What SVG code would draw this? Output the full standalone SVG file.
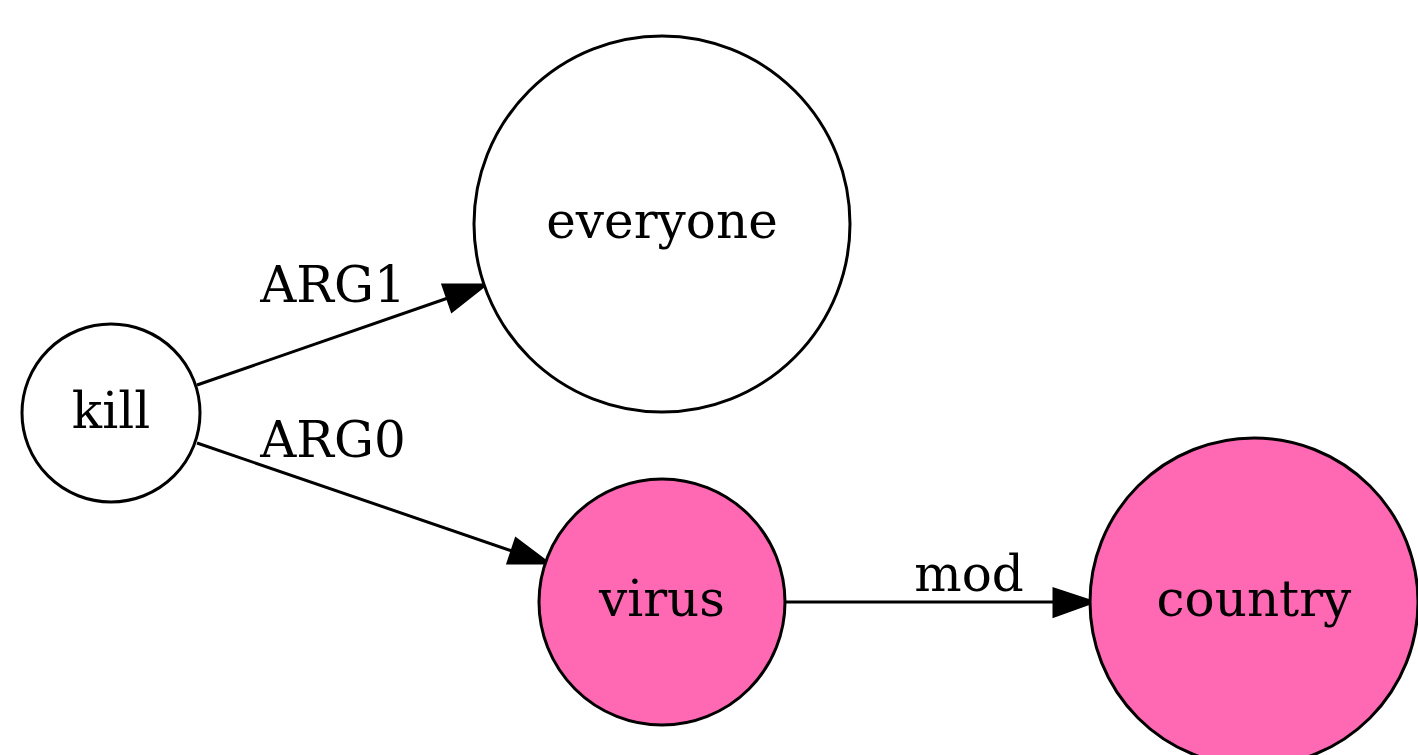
<svg xmlns="http://www.w3.org/2000/svg" width="1418" height="755" viewBox="0 0 1418 755">
<defs>
<style>
.node{stroke:#000;stroke-width:3}
.white{fill:#fff}
.pink{fill:#ff69b4}
text{font-family:"DejaVu Serif",serif;font-size:50px;fill:#000;text-anchor:middle}
.edge{stroke:#000;stroke-width:3;fill:none}
.head{fill:#000;stroke:#000;stroke-width:3}
</style>
</defs>
<rect width="1418" height="755" fill="#fff"/>
<g id="connectors">
<g id="e-kill-everyone">
<path class="edge" d="M197,385 L448,298"/>
<polygon class="head" points="485,285 443,285 452,311"/>
<text x="333" y="302">ARG1</text>
</g>
<g id="e-kill-virus">
<path class="edge" d="M197,443 L512,551"/>
<polygon class="head" points="548,563 508,563 516,539"/>
<text x="333" y="457">ARG0</text>
</g>
<g id="e-virus-country">
<path class="edge" d="M785,602 L1055,602"/>
<polygon class="head" points="1093,602 1054,589 1054,616"/>
<text x="969" y="591">mod</text>
</g>
</g>
<g id="kill">
<circle class="node white" cx="111" cy="413" r="89"/>
<text x="111" y="428">kill</text>
</g>
<g id="everyone">
<circle class="node white" cx="662" cy="224" r="188"/>
<text x="662" y="238">everyone</text>
</g>
<g id="virus">
<circle class="node pink" cx="662" cy="602" r="123"/>
<text x="662" y="616">virus</text>
</g>
<g id="country">
<circle class="node pink" cx="1254" cy="602" r="164"/>
<text x="1254" y="616">country</text>
</g>
</svg>
